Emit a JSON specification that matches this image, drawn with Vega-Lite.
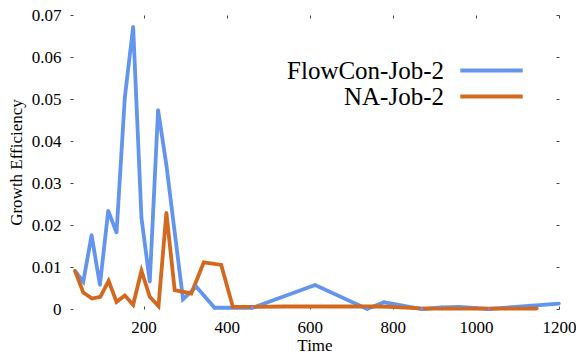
{
  "$schema": "https://vega.github.io/schema/vega-lite/v6.json",
  "width": 489,
  "height": 294,
  "autosize": {"type": "none"},
  "padding": {"left": 70, "top": 15, "right": 17, "bottom": 45},
  "config": {
    "view": {"stroke": null},
    "font": "Liberation Serif",
    "style": {"guide-label": {"font": "Liberation Serif"}, "guide-title": {"font": "Liberation Serif"}},
    "axis": {"grid": false, "domain": false, "tickColor": "#444444", "tickSize": -3, "tickWidth": 1,
             "labelFont": "Liberation Serif", "labelFontSize": 17, "labelColor": "#000000", "labelFlush": false,
             "titleFont": "Liberation Serif", "titleFontSize": 17, "titleFontWeight": "normal", "titleColor": "#000000"},
    "legend": {"labelFont": "Liberation Serif"}
  },
  "data": {
    "values": [
      {"series": "FlowCon-Job-2", "t": 35, "v": 0.0091},
      {"series": "FlowCon-Job-2", "t": 55, "v": 0.0065},
      {"series": "FlowCon-Job-2", "t": 75, "v": 0.0176},
      {"series": "FlowCon-Job-2", "t": 95, "v": 0.0057},
      {"series": "FlowCon-Job-2", "t": 115, "v": 0.0234},
      {"series": "FlowCon-Job-2", "t": 135, "v": 0.0182},
      {"series": "FlowCon-Job-2", "t": 155, "v": 0.0504},
      {"series": "FlowCon-Job-2", "t": 175, "v": 0.0672},
      {"series": "FlowCon-Job-2", "t": 195, "v": 0.0217},
      {"series": "FlowCon-Job-2", "t": 215, "v": 0.0065},
      {"series": "FlowCon-Job-2", "t": 235, "v": 0.0474},
      {"series": "FlowCon-Job-2", "t": 255, "v": 0.0343},
      {"series": "FlowCon-Job-2", "t": 295, "v": 0.0023},
      {"series": "FlowCon-Job-2", "t": 327, "v": 0.0053},
      {"series": "FlowCon-Job-2", "t": 371, "v": 0.0003},
      {"series": "FlowCon-Job-2", "t": 462, "v": 0.0003},
      {"series": "FlowCon-Job-2", "t": 613, "v": 0.0057},
      {"series": "FlowCon-Job-2", "t": 738, "v": 0.0},
      {"series": "FlowCon-Job-2", "t": 779, "v": 0.0016},
      {"series": "FlowCon-Job-2", "t": 870, "v": 0.0},
      {"series": "FlowCon-Job-2", "t": 918, "v": 0.0004},
      {"series": "FlowCon-Job-2", "t": 960, "v": 0.0005},
      {"series": "FlowCon-Job-2", "t": 1030, "v": 0.0},
      {"series": "FlowCon-Job-2", "t": 1200, "v": 0.0013},
      {"series": "NA-Job-2", "t": 35, "v": 0.0091},
      {"series": "NA-Job-2", "t": 55, "v": 0.0039},
      {"series": "NA-Job-2", "t": 76, "v": 0.0025},
      {"series": "NA-Job-2", "t": 96, "v": 0.0029},
      {"series": "NA-Job-2", "t": 116, "v": 0.0067},
      {"series": "NA-Job-2", "t": 135, "v": 0.0017},
      {"series": "NA-Job-2", "t": 155, "v": 0.0032},
      {"series": "NA-Job-2", "t": 175, "v": 0.0010},
      {"series": "NA-Job-2", "t": 195, "v": 0.0091},
      {"series": "NA-Job-2", "t": 215, "v": 0.0029},
      {"series": "NA-Job-2", "t": 236, "v": 0.0007},
      {"series": "NA-Job-2", "t": 255, "v": 0.0229},
      {"series": "NA-Job-2", "t": 275, "v": 0.0045},
      {"series": "NA-Job-2", "t": 315, "v": 0.0037},
      {"series": "NA-Job-2", "t": 345, "v": 0.0111},
      {"series": "NA-Job-2", "t": 387, "v": 0.0105},
      {"series": "NA-Job-2", "t": 415, "v": 0.0005},
      {"series": "NA-Job-2", "t": 455, "v": 0.0005},
      {"series": "NA-Job-2", "t": 537, "v": 0.0006},
      {"series": "NA-Job-2", "t": 594, "v": 0.0006},
      {"series": "NA-Job-2", "t": 699, "v": 0.0006},
      {"series": "NA-Job-2", "t": 755, "v": 0.0006},
      {"series": "NA-Job-2", "t": 795, "v": 0.0005},
      {"series": "NA-Job-2", "t": 877, "v": 0.0001},
      {"series": "NA-Job-2", "t": 918, "v": 0.0001},
      {"series": "NA-Job-2", "t": 959, "v": 0.0001},
      {"series": "NA-Job-2", "t": 997, "v": 0.0001},
      {"series": "NA-Job-2", "t": 1026, "v": 0.0001},
      {"series": "NA-Job-2", "t": 1069, "v": 0.0001},
      {"series": "NA-Job-2", "t": 1147, "v": 0.0001}
    ]
  },
  "layer": [
    {
      "mark": {"type": "line", "strokeWidth": 3.8, "point": {"size": 12, "filled": true}},
      "encoding": {
        "x": {"field": "t", "type": "quantitative",
              "scale": {"domain": [23, 1200], "nice": false, "zero": false},
              "axis": {"orient": "bottom", "title": "Time", "values": [200, 400, 600, 800, 1000, 1200], "format": "d",
                       "labelFont": "Liberation Serif", "labelFontSize": 17, "labelFlush": false,
                       "labelPadding": 13, "titlePadding": 2}},
        "y": {"field": "v", "type": "quantitative",
              "scale": {"domain": [0, 0.07], "nice": false},
              "axis": {"orient": "left", "title": "Growth Efficiency", "values": [0, 0.01, 0.02, 0.03, 0.04, 0.05, 0.06, 0.07],
                       "labelFont": "Liberation Serif", "labelFontSize": 17, "labelFlush": false,
                       "format": ".2~f", "labelPadding": 12, "titlePadding": 6}},
        "color": {"field": "series", "type": "nominal",
                  "scale": {"domain": ["FlowCon-Job-2", "NA-Job-2"], "range": ["#6495ED", "#D2691E"]},
                  "legend": {"orient": "none", "legendX": 409, "legendY": 43, "title": null,
                             "symbolType": "M-3,0H3", "symbolSize": 433, "symbolStrokeWidth": 3.8,
                             "labelFont": "Liberation Serif", "labelFontSize": 25, "labelColor": "#000000",
                             "labelAlign": "right", "labelOffset": -60, "padding": 0, "rowPadding": 0,
                             "labelLimit": 300}}
      }
    },
    {
      "mark": {"type": "line", "opacity": 0},
      "encoding": {
        "x": {"field": "t", "type": "quantitative",
              "axis": {"orient": "top", "title": null, "labels": false, "values": [200, 400, 600, 800, 1000, 1200]}},
        "y": {"field": "v", "type": "quantitative",
              "axis": {"orient": "right", "title": null, "labels": false, "values": [0, 0.01, 0.02, 0.03, 0.04, 0.05, 0.06, 0.07]}},
        "detail": {"field": "series", "type": "nominal"}
      }
    }
  ],
  "resolve": {"axis": {"x": "independent", "y": "independent"}}
}
